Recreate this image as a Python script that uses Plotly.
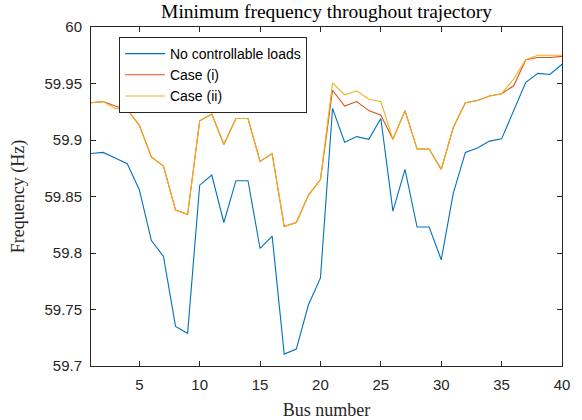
import plotly.graph_objects as go

bus = list(range(1, 41))
no_ctrl = [59.888, 59.889, 59.884, 59.879, 59.856, 59.811, 59.797, 59.735, 59.729, 59.860,
           59.869, 59.827, 59.864, 59.864, 59.804, 59.815, 59.7105, 59.715, 59.754, 59.778,
           59.928, 59.898, 59.903, 59.9006, 59.919, 59.837, 59.874, 59.823, 59.823, 59.794,
           59.853, 59.889, 59.893, 59.899, 59.901, 59.926, 59.951, 59.959, 59.958, 59.967]
case_i = [59.933, 59.934, 59.930, 59.927, 59.913, 59.885, 59.877, 59.838, 59.834, 59.917,
          59.923, 59.896, 59.919, 59.919, 59.881, 59.888, 59.8234, 59.827, 59.851, 59.865,
          59.944, 59.930, 59.934, 59.926, 59.922, 59.9006, 59.926, 59.892, 59.892, 59.874,
          59.911, 59.933, 59.935, 59.939, 59.941, 59.948, 59.971, 59.973, 59.973, 59.974]
case_ii = [59.933, 59.934, 59.928, 59.927, 59.913, 59.885, 59.877, 59.838, 59.834, 59.917,
           59.923, 59.896, 59.919, 59.919, 59.881, 59.888, 59.8234, 59.827, 59.851, 59.865,
           59.9506, 59.940, 59.9435, 59.936, 59.934, 59.9006, 59.926, 59.892, 59.892, 59.874,
           59.911, 59.933, 59.935, 59.939, 59.941, 59.954, 59.971, 59.975, 59.975, 59.975]
names = ["No controllable loads", "Case (i)", "Case (ii)"]
colors = ["#0072BD", "#D95319", "#EDB120"]
x_ticks = [5, 10, 15, 20, 25, 30, 35, 40]
y_ticks = [59.7, 59.75, 59.8, 59.85, 59.9, 59.95, 60]
y_tick_labels = ["59.7", "59.75", "59.8", "59.85", "59.9", "59.95", "60"]

fig = go.Figure()
for ys, n, c in zip([no_ctrl, case_i, case_ii], names, colors):
    fig.add_trace(go.Scatter(x=bus, y=ys, mode="lines", name=n,
                             line=dict(color=c, width=1.1)))

serif = "Liberation Serif, DejaVu Serif, serif"
sans = "Liberation Sans, Arial, sans-serif"
axis_common = dict(showline=True, linecolor="#262626", linewidth=1, mirror="ticks",
                   ticks="inside", ticklen=5, tickcolor="#262626", showgrid=False,
                   zeroline=False, automargin=False,
                   tickfont=dict(family=sans, size=15, color="#262626"))
fig.update_layout(
    width=582, height=420,
    margin=dict(l=91, r=20, t=27, b=54, autoexpand=False),
    plot_bgcolor="white", paper_bgcolor="white",
    title=dict(text="Minimum frequency throughout trajectory", x=0.5, xanchor="center",
               y=0.974, yanchor="middle", xref="paper",
               font=dict(family=serif, size=19.5, color="black")),
    xaxis=dict(range=[1, 40], tickvals=x_ticks, ticklabelstandoff=5,
               title=dict(text="Bus number", font=dict(family=serif, size=18, color="#262626")),
               **axis_common),
    yaxis=dict(range=[59.7, 60], tickvals=y_ticks, ticktext=y_tick_labels, ticklabelstandoff=5,
               title=dict(text="Frequency (Hz)", font=dict(family=serif, size=18, color="#262626")),
               **axis_common),
    legend=dict(x=0.0594, y=0.9705, xanchor="left", yanchor="top",
                bordercolor="#262626", borderwidth=1, bgcolor="white",
                font=dict(family=sans, size=14, color="black"),
                tracegroupgap=0, itemwidth=40),
    showlegend=True,
)
fig.write_html("out.html", post_script="document.body.style.margin='0';",
               config={"displayModeBar": False})
